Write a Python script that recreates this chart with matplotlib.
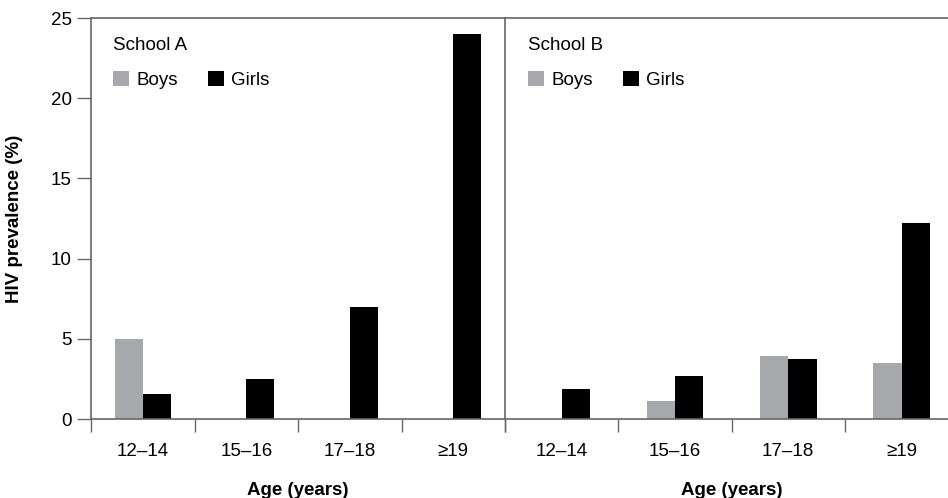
import numpy as np
import matplotlib.pyplot as plt

plt.rcParams['font.family'] = ['Liberation Sans', 'DejaVu Sans']

# Datos
grupos = ['12\u201314', '15\u201316', '17\u201318', '\u226519']
boys_A = [5.0, 0, 0, 0]
girls_A = [1.55, 2.5, 7.0, 24.0]
boys_B = [0, 1.1, 3.9, 3.5]
girls_B = [1.9, 2.7, 3.75, 12.2]
escuelas = ['School A', 'School B']

gris = '#a7a8ab'
linea = '#666666'
fs = 13.5

fig = plt.figure(figsize=(9.48, 4.98), dpi=100)
axA = fig.add_axes([0.096, 0.1586, 0.4367, 0.8052])
axB = fig.add_axes([0.5327, 0.1586, 0.478, 0.8052])

x = np.arange(len(grupos))
for ax, boys, girls, nombre, ancho in [(axA, boys_A, girls_A, escuelas[0], 0.27),
                                       (axB, boys_B, girls_B, escuelas[1], 0.25)]:
    ax.bar(x - ancho / 2, boys, ancho, color=gris, label='Boys')
    ax.bar(x + ancho / 2, girls, ancho, color='black', label='Girls')
    ax.set_xlim(-0.5, 3.5)
    ax.set_ylim(0, 25)
    ax.set_xticks([-0.5, 0.5, 1.5, 2.5, 3.5])
    ax.set_xticklabels([])
    ax.set_xticks(x, minor=True)
    ax.set_xticklabels(grupos, minor=True, fontsize=fs)
    ax.tick_params(axis='x', which='major', length=9, width=1, color=linea, direction='out')
    ax.tick_params(axis='x', which='minor', length=0, pad=17)
    ax.spines['right'].set_visible(False)
    for s in ['top', 'bottom', 'left']:
        ax.spines[s].set_color(linea)
        ax.spines[s].set_linewidth(1.2)
    ax.set_xlabel('Age (years)', fontsize=fs, fontweight='bold', labelpad=16)
    leg = ax.legend(loc='upper left', ncol=2, title=nombre, frameon=False,
                    fontsize=fs, title_fontsize=fs, handlelength=0.85, handleheight=0.85,
                    handletextpad=0.4, columnspacing=1.6, alignment='left',
                    labelspacing=0.9, borderpad=0, bbox_to_anchor=(0.03, 0.975))

axA.set_yticks([0, 5, 10, 15, 20, 25])
axA.tick_params(axis='y', length=10, width=1, color=linea, labelsize=fs, pad=4)
axA.set_ylabel('HIV prevalence (%)', fontsize=fs, fontweight='bold', labelpad=20)
axB.set_yticks([])

plt.savefig('out.png', dpi=100)
